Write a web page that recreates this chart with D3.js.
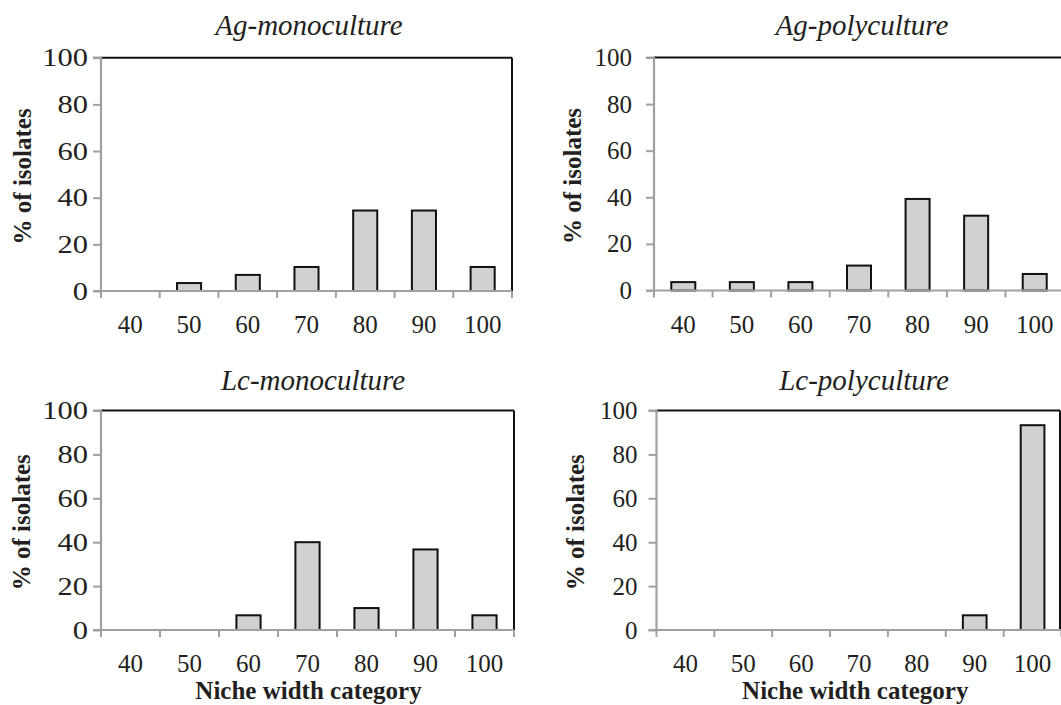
<!DOCTYPE html>
<html>
<head>
<meta charset="utf-8">
<script src="https://cdnjs.cloudflare.com/ajax/libs/d3/7.8.5/d3.min.js"></script>
<style>
  html, body { margin: 0; padding: 0; background: #fff; }
  svg { display: block; }
</style>
</head>
<body>
<svg id="chart" width="1061" height="705"></svg>
<script>
// ---- data ----
const categories = ["40", "50", "60", "70", "80", "90", "100"];
const agMonoculture = [0, 3.4, 6.9, 10.3, 34.5, 34.5, 10.3];
const agPolyculture = [3.6, 3.6, 3.6, 10.7, 39.3, 32.1, 7.1];
const lcMonoculture = [0, 0, 6.7, 40.0, 10.0, 36.7, 6.7];
const lcPolyculture = [0, 0, 0, 0, 0, 6.7, 93.3];
const yTickValues = [0, 20, 40, 60, 80, 100];
const panelTitles = ["Ag-monoculture", "Ag-polyculture", "Lc-monoculture", "Lc-polyculture"];
const yAxisTitle = "% of isolates";
const xAxisTitle = "Niche width category";

// ---- layout ----
const FONT = "'Liberation Serif', 'Times New Roman', Times, serif";
const panels = [
  { title: panelTitles[0], values: agMonoculture, x0: 101, x1: 512, y0: 57.7, y1: 291, titleX: 309, titleY: 35, yLabX: 23, tickGap: 13, stretch: 1.22, xTitle: false },
  { title: panelTitles[1], values: agPolyculture, x0: 654, x1: 1064, y0: 57.5, y1: 290.5, titleX: 862, titleY: 35, yLabX: 573, tickGap: 22, stretch: 1, xTitle: false },
  { title: panelTitles[2], values: lcMonoculture, x0: 101, x1: 514, y0: 410.5, y1: 630, titleX: 313, titleY: 390, yLabX: 22, tickGap: 13, stretch: 1.22, xTitle: true },
  { title: panelTitles[3], values: lcPolyculture, x0: 656.5, x1: 1061.5, y0: 410.5, y1: 630, titleX: 864, titleY: 390, yLabX: 576, tickGap: 19, stretch: 1, xTitle: true, borderX: 1060 }
];

const svg = d3.select("#chart");
const axisGray = "#a0a0a0";
const ink = "#231f20";

panels.forEach(p => {
  const g = svg.append("g");
  const x = d3.scaleBand().domain(categories).range([p.x0, p.x1]).paddingInner(0).paddingOuter(0);
  const y = d3.scaleLinear().domain([0, 100]).range([p.y1, p.y0]);
  const bw = x.bandwidth() * 0.41;

  // plot border (top & right)
  const bx = p.borderX || p.x1;
  g.append("line").attr("x1", p.x0).attr("x2", bx).attr("y1", y(100)).attr("y2", y(100))
    .attr("stroke", "#111").attr("stroke-width", 2);
  g.append("line").attr("x1", bx).attr("x2", bx).attr("y1", y(100)).attr("y2", y(0))
    .attr("stroke", "#111").attr("stroke-width", 2);

  // bars
  g.selectAll("rect.bar")
    .data(categories.map((c, i) => ({ c, v: p.values[i] })).filter(d => d.v > 0))
    .enter().append("rect")
    .attr("class", "bar")
    .attr("x", d => x(d.c) + (x.bandwidth() - bw) / 2)
    .attr("width", bw)
    .attr("y", d => y(d.v))
    .attr("height", d => y(0) - y(d.v))
    .attr("fill", "#d0d1d0")
    .attr("stroke", "#111")
    .attr("stroke-width", 2);

  // y axis
  const yAxis = d3.axisLeft(y).tickValues(yTickValues).tickSize(8).tickPadding(p.tickGap - 8).tickFormat(d3.format("d"));
  const ya = g.append("g").attr("transform", `translate(${p.x0},0)`).call(yAxis)
    .attr("font-family", FONT).attr("font-size", 25);
  ya.select(".domain").attr("stroke", axisGray).attr("stroke-width", 2.2).attr("d", `M-8,${y(100)}H0V${y(0)}`);
  ya.selectAll(".tick line").attr("stroke", axisGray).attr("stroke-width", 2);
  ya.selectAll(".tick text").attr("font-size", 25).attr("font-family", FONT).attr("fill", ink)
    .each(function () {
      const t = d3.select(this);
      const xv = +t.attr("x");
      t.attr("x", 0).attr("transform", `translate(${xv},0) scale(${p.stretch},1)`);
    });

  // x axis
  const xb = d3.scaleLinear().domain([0, categories.length]).range([p.x0, p.x1]);
  g.append("line").attr("x1", p.x0 - 8).attr("x2", Math.min(p.x1, 1061)).attr("y1", y(0)).attr("y2", y(0))
    .attr("stroke", axisGray).attr("stroke-width", 2.2);
  g.selectAll("line.xt").data(d3.range(categories.length + 1)).enter().append("line")
    .attr("class", "xt")
    .attr("x1", d => xb(d)).attr("x2", d => xb(d))
    .attr("y1", y(0)).attr("y2", y(0) + 7)
    .attr("stroke", axisGray).attr("stroke-width", 2);
  g.selectAll("text.xl").data(categories).enter().append("text")
    .attr("class", "xl")
    .attr("x", d => x(d) + x.bandwidth() / 2)
    .attr("y", y(0) + 42)
    .attr("text-anchor", "middle")
    .attr("font-family", FONT).attr("fill", ink)
    .attr("font-size", 25)
    .text(d => d);

  // title
  g.append("text").attr("x", p.titleX).attr("y", p.titleY)
    .attr("text-anchor", "middle").attr("font-size", 29).attr("font-style", "italic")
    .attr("font-family", FONT).attr("fill", ink)
    .text(p.title);

  // y axis title
  const cy = (p.y0 + p.y1) / 2 + 2;
  g.append("text").attr("transform", `translate(${p.yLabX + 8},${cy}) rotate(-90)`)
    .attr("text-anchor", "middle").attr("font-size", 25).attr("font-weight", "bold")
    .attr("font-family", FONT).attr("fill", ink)
    .text(yAxisTitle);

  if (p.xTitle) {
    g.append("text").attr("x", (p.x0 + Math.min(p.x1, 1052)) / 2 + 1).attr("y", 699)
      .attr("text-anchor", "middle").attr("font-size", 25).attr("font-weight", "bold")
      .attr("font-family", FONT).attr("fill", ink)
      .text(xAxisTitle);
  }
});
</script>
</body>
</html>
